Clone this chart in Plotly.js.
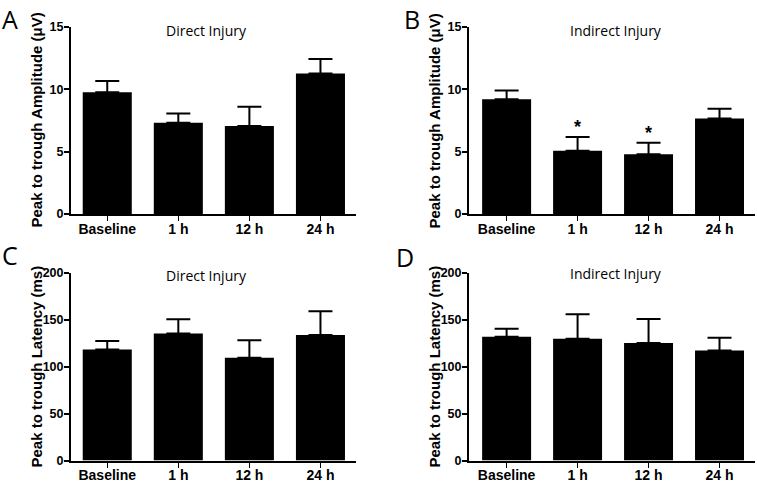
<!DOCTYPE html>
<html>
<head>
<meta charset="utf-8">
<script src="https://cdn.plot.ly/plotly-3.0.1.min.js"></script>
<style>html,body{margin:0;padding:0;background:#fff;}#chart{width:757px;height:482px;}</style>
</head>
<body>
<div id="chart"></div>
<script>
const categories = ['Baseline', '1 h', '12 h', '24 h'];
const ampDirect = [9.76, 7.32, 7.06, 11.28];
const ampDirectErr = [0.9, 0.75, 1.55, 1.15];
const ampIndirect = [9.2, 5.08, 4.79, 7.67];
const ampIndirectErr = [0.7, 1.1, 0.93, 0.78];
const ampIndirectSig = ['', '*', '*', ''];
const latDirect = [118, 135, 109.4, 133.6];
const latDirectErr = [9, 15.3, 18.5, 25.2];
const latIndirect = [131.7, 129.5, 124.9, 117.1];
const latIndirectErr = [8.5, 26, 25.6, 13.5];
const panelLetters = ['A', 'B', 'C', 'D'];
const panelTitles = ['Direct Injury', 'Indirect Injury', 'Direct Injury', 'Indirect Injury'];
const ampTitle = 'Peak to trough Amplitude (μV)';
const latTitle = 'Peak to trough Latency (ms)';

const W = 757, H = 482;
const px = v => v / W;
const py = v => 1 - v / H;

const xTickFont = {family: 'Liberation Sans, Arial, sans-serif', size: 14, color: '#000', weight: 'bold'};
const yTickFont = {family: 'Liberation Sans, Arial, sans-serif', size: 12.5, color: '#000', weight: 'bold'};
const titleFont = {family: 'Liberation Sans, Arial, sans-serif', size: 15, color: '#000', weight: 'bold'};
const series = [
  {y: ampDirect, e: ampDirectErr},
  {y: ampIndirect, e: ampIndirectErr},
  {y: latDirect, e: latDirectErr},
  {y: latIndirect, e: latIndirectErr}
];
const axNames = ['', '2', '3', '4'];
const traces = series.map((s, i) => ({
  type: 'bar',
  x: categories,
  y: s.y,
  width: 0.69,
  marker: {color: '#000', line: {width: 0}},
  error_y: {type: 'data', array: s.e, arrayminus: s.e.map(() => 0), symmetric: false,
            color: '#000', thickness: 2, width: 12},
  xaxis: 'x' + axNames[i],
  yaxis: 'y' + axNames[i],
  showlegend: false,
  hoverinfo: 'skip'
}));

const xDom = [[px(71), px(356)], [px(469), px(755)], [px(71), px(356)], [px(469), px(755)]];
const xRng = [[-0.51, 3.5], [-0.53, 3.5], [-0.51, 3.5], [-0.53, 3.5]];
const yDom = [[py(214), py(27)], [py(214), py(27)], [py(460.5), py(272.5)], [py(460.5), py(272.5)]];

const layout = {
  width: W, height: H,
  margin: {l: 0, r: 0, t: 0, b: 0},
  paper_bgcolor: '#fff', plot_bgcolor: '#fff',
  showlegend: false,
  annotations: [],
  bargap: 0.31
};
for (let i = 0; i < 4; i++) {
  const isAmp = i < 2;
  layout['xaxis' + axNames[i]] = {
    domain: xDom[i], anchor: 'y' + axNames[i], type: 'category',
    range: xRng[i], showline: true, linecolor: '#000', linewidth: 2,
    ticks: 'outside', ticklen: 5, tickwidth: 1.5, tickcolor: '#000',
    ticklabelstandoff: -4,
    showgrid: false, zeroline: false, tickfont: xTickFont, fixedrange: true
  };
  layout['yaxis' + axNames[i]] = {
    domain: yDom[i], anchor: 'x' + axNames[i],
    range: isAmp ? [0, 15] : [0, 200], dtick: isAmp ? 5 : 50, tick0: 0,
    showline: true, linecolor: '#000', linewidth: 2,
    ticks: 'outside', ticklen: 5, tickwidth: 2, tickcolor: '#000',
    ticklabelstandoff: -2,
    showgrid: false, zeroline: false, tickfont: yTickFont, fixedrange: true
  };
}
const letterPos = [[10, 0], [412, 0], [10, 236], [405, 238]];
const titlePos = [[206, 30], [616, 30], [206, 275], [616, 273]];
const yTitlePos = [[36, 120.5], [434, 120.5], [36, 366.5], [434, 366.5]];
for (let i = 0; i < 4; i++) {
  layout.annotations.push({
    text: panelLetters[i], xref: 'paper', yref: 'paper',
    x: px(letterPos[i][0]), y: py(letterPos[i][1]), xanchor: 'center', yanchor: 'top',
    showarrow: false, font: {family: 'Open Sans, sans-serif', size: 25, color: '#000'}
  });
  layout.annotations.push({
    text: panelTitles[i], xref: 'paper', yref: 'paper',
    x: px(titlePos[i][0]), y: py(titlePos[i][1]), xanchor: 'center', yanchor: 'middle',
    showarrow: false, font: {family: 'Open Sans, sans-serif', size: 14, color: '#000'}
  });
  layout.annotations.push({
    text: i < 2 ? ampTitle : latTitle, xref: 'paper', yref: 'paper', textangle: -90,
    x: px(yTitlePos[i][0]), y: py(yTitlePos[i][1]), xanchor: 'center', yanchor: 'middle',
    showarrow: false, font: titleFont
  });
}
ampIndirectSig.forEach((s, j) => {
  if (!s) return;
  layout.annotations.push({
    text: s, xref: 'x2', yref: 'y2', x: categories[j], y: ampIndirect[j] + ampIndirectErr[j],
    yanchor: 'bottom', yshift: -2, showarrow: false,
    font: {family: 'Liberation Sans, Arial, sans-serif', size: 18, color: '#000', weight: 'bold'}
  });
});

Plotly.newPlot('chart', traces, layout, {displayModeBar: false, staticPlot: true});
</script>
</body>
</html>
